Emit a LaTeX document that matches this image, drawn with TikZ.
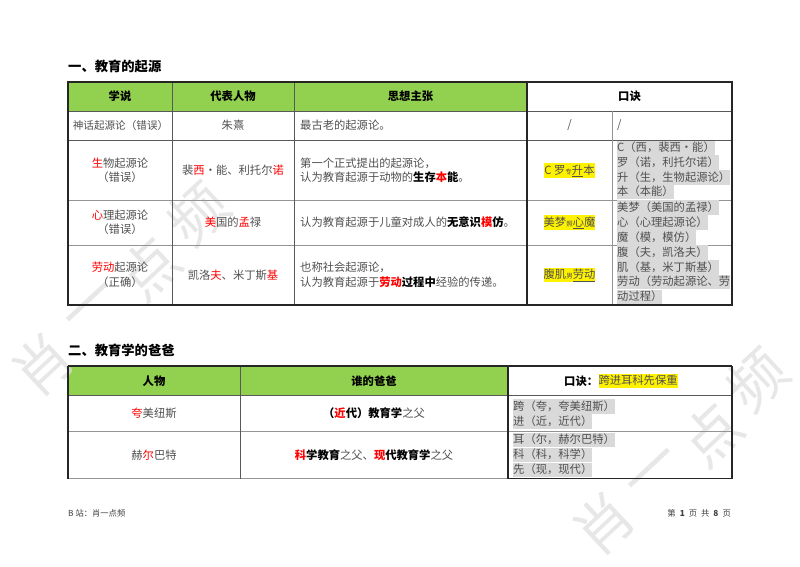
\documentclass[tikz,border=0pt]{standalone}
\usepackage{fontspec}
\setmainfont{Noto Sans CJK SC}
\usetikzlibrary{calc}
\definecolor{hdrgreen}{HTML}{92D050}
\definecolor{hlgray}{HTML}{D9D9D9}
\definecolor{bodytext}{HTML}{505050}
\definecolor{wmark}{HTML}{DDDDDD}
\newcommand{\rd}[1]{\textcolor{red}{#1}}
\newcommand{\rb}[1]{\textcolor{red}{\bfseries #1}}
\newcommand{\bk}[1]{\textcolor{black}{\bfseries #1}}
\newcommand{\smallch}{\fontsize{6.5}{7}\selectfont}
\tikzset{
  body/.style={font=\fontsize{11.3}{13}\selectfont, text=bodytext, inner sep=0pt},
  hdr/.style={font=\fontsize{11.3}{13}\selectfont\bfseries, text=black, inner sep=0pt},
  title/.style={font=\fontsize{13.3}{16}\selectfont\bfseries, text=black, inner sep=0pt, anchor=west},
  foot/.style={font=\fontsize{8.3}{9}\selectfont, text=black!75, inner sep=0pt},
  hl/.style={body, anchor=west, fill=hlgray, minimum height=14.6pt, text height=9.6pt, text depth=2pt},
  yl/.style={body, fill=yellow, minimum height=14.6pt, text height=9.6pt, text depth=2pt},
  thickln/.style={line width=1.5pt, draw=black!85},
  thinln/.style={line width=.7pt, draw=black!65},
  grayln/.style={line width=1pt, draw=black!42},
  wm/.style={font=\fontsize{58}{58}\selectfont, text=wmark, inner sep=0pt, rotate=43, opacity=.7},
}
\begin{document}
\begin{tikzpicture}[x=1pt,y=-1pt]
\useasboundingbox (0,0) rectangle (800,566);
\fill[white] (0,0) rectangle (800,566);
% header fills
\fill[hdrgreen] (68,82) rectangle (527,111);
\fill[hdrgreen] (68,366) rectangle (508,395);
% watermarks
\node[wm] (w1) at (43,365) {肖};
\node[wm] (w2) at (94,310) {一};
\node[wm] (w3) at (150,269) {点};
\node[wm] (w4) at (198,214) {频};
\node[wm] (w5) at (604,524) {肖};
\node[wm] (w6) at (656,476) {一};
\node[wm] (w7) at (712,435) {点};
\node[wm] (w8) at (757,380) {频};
% titles
\node[title] (t1) at (68,66) {一、教育的起源};
\node[title] (t2) at (68,350) {二、教育学的爸爸};
% table one lines
\draw[thinln] (68,140) -- (732,140) (68,111) -- (732,111);
\draw[grayln] (68,200) -- (732,200) (68,245) -- (732,245);
\draw[thinln] (172.3,82) -- (172.3,305) (294,82) -- (294,305);
\draw[grayln] (612,111) -- (612,305);
\draw[thickln] (527,82) -- (527,305);
\draw[thickln] (68,82) rectangle (732,305);
% table two lines
\draw[thinln] (68,395.3) -- (732,395.3);
\draw[grayln] (68,431) -- (732,431) (68,478.7) -- (508,478.7);
\draw[thinln] (240.7,366) -- (240.7,478.7);
\draw[thickln] (68,366) -- (732,366) (68,366) -- (68,478.7) (508,366) -- (508,478.7) (732,366) -- (732,478.7) (508,478.7) -- (732,478.7);
% table one header
\node[hdr] (a1) at (120,96.5) {学说};
\node[hdr] (a2) at (233,96.5) {代表人物};
\node[hdr] (a3) at (410.5,96.5) {思想主张};
\node[hdr] (a4) at (629.5,96.5) {口诀};
% row 1
\node[body,font=\fontsize{10.6}{13}\selectfont] (b1) at (120.5,125.5) {神话起源论（错误）};
\node[body] (b2) at (233,125.5) {朱熹};
\node[body,anchor=west] (b3) at (300,125.5) {最古老的起源论。};
\node[body] (b4) at (569.5,125.5) {/};
\node[body,anchor=west] (b5) at (617,125.5) {/};
% row 2
\node[body] (c1a) at (120,163) {\rd{生}物起源论};
\node[body] (c1b) at (120,177.5) {（错误）};
\node[body] (c2) at (233,170.5) {裴\rd{西}·能、利托尔\rd{诺}};
\node[body,anchor=west] (c3a) at (300,163) {第一个正式提出的起源论，};
\node[body,anchor=west] (c3b) at (300,177.5) {认为教育起源于动物的\bk{生存}\rb{本}\bk{能}。};
\node[yl] (c4) at (569.5,170.5) {C 罗{\smallch 专}\underline{升}本};
\node[hl] (c5a) at (617,148) {C（西，裴西·能）};
\node[hl] (c5b) at (617,162.7) {罗（诺，利托尔诺）};
\node[hl] (c5c) at (617,177.4) {升（生，生物起源论）};
\node[hl] (c5d) at (617,192) {本（本能）};
% row 3
\node[body] (d1a) at (120,215) {\rd{心}理起源论};
\node[body] (d1b) at (120,229.5) {（错误）};
\node[body] (d2) at (233,222.5) {\rd{美}国的\rd{孟}禄};
\node[body,anchor=west] (d3) at (300,222.5) {认为教育起源于儿童对成人的\bk{无意识}\rb{模}\bk{仿}。};
\node[yl] (d4) at (569.5,222.5) {美梦{\smallch 照}\underline{心}魔};
\node[hl] (d5a) at (617,207.5) {美梦（美国的孟禄）};
\node[hl] (d5b) at (617,222.5) {心（心理起源论）};
\node[hl] (d5c) at (617,237.5) {魔（模，模仿）};
% row 4
\node[body] (e1a) at (120,267.5) {\rd{劳动}起源论};
\node[body] (e1b) at (120,282) {（正确）};
\node[body] (e2) at (233,275) {凯洛\rd{夫}、米丁斯\rd{基}};
\node[body,anchor=west] (e3a) at (300,267.5) {也称社会起源论，};
\node[body,anchor=west] (e3b) at (300,282) {认为教育起源于\rb{劳动}\bk{过程中}经验的传递。};
\node[yl] (e4) at (569.5,275) {腹肌{\smallch 男}\underline{劳动}};
\node[hl] (e5a) at (617,252.5) {腹（夫，凯洛夫）};
\node[hl] (e5b) at (617,267.2) {肌（基，米丁斯基）};
\node[hl] (e5c) at (617,282) {劳动（劳动起源论、劳};
\node[hl] (e5d) at (617,297) {动过程）};
% table two
\node[hdr] (f1) at (154,381) {人物};
\node[hdr] (f2) at (374,381) {谁的爸爸};
\node[hdr,anchor=west] (f3) at (564,381) {口诀：};
\node[yl,anchor=west] (f4) at (f3.east) {跨进耳科先保重};
\node[body] (g1) at (154,413) {\rd{夸}美纽斯};
\node[body] (g2) at (374,413) {\bk{（}\rb{近}\bk{代）教育学}之父};
\node[hl] (g3a) at (513,406.5) {跨（夸，夸美纽斯）};
\node[hl] (g3b) at (513,421.2) {进（近，近代）};
\node[body] (h1) at (154,455) {赫\rd{尔}巴特};
\node[body] (h2) at (374,455) {\rb{科}\bk{学教育}之父、\rb{现}\bk{代教育学}之父};
\node[hl] (h3a) at (513,440) {耳（尔，赫尔巴特）};
\node[hl] (h3b) at (513,455) {科（科，科学）};
\node[hl] (h3c) at (513,470) {先（现，现代）};
% footer
\node[foot,anchor=west] (k1) at (68,513) {B 站：肖一点频};
\node[foot,anchor=east] (k2) at (731,513) {第\hspace{4pt}\textbf{1}\hspace{4pt}页\hspace{4pt}共\hspace{4pt}\textbf{8}\hspace{4pt}页};
\end{tikzpicture}
\end{document}
